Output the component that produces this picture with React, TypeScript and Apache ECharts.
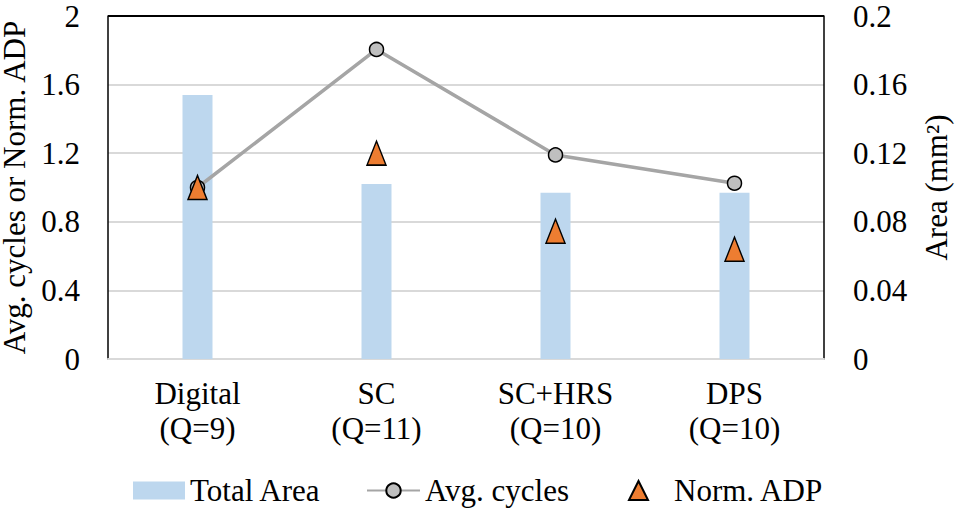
import React, { useEffect, useRef } from "react";
import * as echarts from "echarts";

const categories = ["Digital\n(Q=9)", "SC\n(Q=11)", "SC+HRS\n(Q=10)", "DPS\n(Q=10)"];
const totalArea = [0.154, 0.102, 0.097, 0.097];
const avgCycles = [1.0, 1.805, 1.19, 1.025];
const normADP = [1.0, 1.2, 0.745, 0.64];
const leftTicks = ["0", "0.4", "0.8", "1.2", "1.6", "2"];
const rightTicks = ["0", "0.04", "0.08", "0.12", "0.16", "0.2"];

const FONT = "Liberation Serif";
const FS = 31;

export default function App() {
  const ref = useRef<HTMLDivElement>(null);
  useEffect(() => {
    document.body.style.margin = "0";
    const chart = echarts.init(ref.current!, null, { renderer: "svg" });
    const txt = { color: "#000", fontFamily: FONT, fontSize: FS };
    chart.setOption({
      animation: false,
      grid: {
        left: 108,
        right: 133,
        top: 16,
        bottom: 155,
        outerBoundsMode: "none",
        containLabel: false,
      },
      legend: [
        {
          data: ["Total Area"],
          left: 133,
          top: 475,
          padding: 0,
          itemWidth: 52,
          itemHeight: 18,
          textStyle: { ...txt },
          icon: "rect",
        },
        {
          data: ["Avg. cycles"],
          left: 366,
          top: 475,
          padding: 0,
          itemWidth: 53,
          itemHeight: 18,
          textStyle: { ...txt },
        },
        {
          data: ["Norm. ADP"],
          left: 628,
          top: 475,
          padding: 0,
          itemWidth: 19,
          itemHeight: 19,
          textStyle: { ...txt, padding: [0, 0, 0, 21] },
        },
      ],
      xAxis: {
        type: "category",
        data: categories,
        axisTick: { show: false },
        axisLine: { lineStyle: { color: "#D9D9D9", width: 2 } },
        axisLabel: { ...txt, margin: 17, lineHeight: 35 },
      },
      yAxis: [
        {
          type: "value",
          min: 0,
          max: 2,
          interval: 0.4,
          name: "Avg. cycles or Norm. ADP",
          nameLocation: "middle",
          nameGap: 73,
          nameTextStyle: { ...txt },
          axisLine: { show: true, lineStyle: { color: "#000", width: 1.5 } },
          axisTick: { show: false },
          axisLabel: {
            ...txt,
            margin: 28,
            formatter: (v: number) => leftTicks[Math.round(v / 0.4)] ?? String(v),
          },
          splitLine: {
            lineStyle: {
              color: ["#D9D9D9", "#D9D9D9", "#D9D9D9", "#D9D9D9", "#D9D9D9", "#000000"],
              width: 1.8,
            },
          },
        },
        {
          type: "value",
          min: 0,
          max: 0.2,
          interval: 0.04,
          position: "right",
          name: "Area (mm²)",
          nameLocation: "middle",
          nameGap: 97,
          nameRotate: 90,
          nameTextStyle: { ...txt },
          axisLine: { show: true, lineStyle: { color: "#000", width: 1.5 } },
          axisTick: { show: false },
          axisLabel: {
            ...txt,
            margin: 29,
            formatter: (v: number) => rightTicks[Math.round(v / 0.04)] ?? String(v),
          },
          splitLine: { show: false },
        },
      ],
      series: [
        {
          name: "Total Area",
          type: "bar",
          yAxisIndex: 1,
          data: totalArea,
          barWidth: 30,
          itemStyle: { color: "#BDD7EE" },
          z: 1,
        },
        {
          name: "Avg. cycles",
          type: "line",
          yAxisIndex: 0,
          data: avgCycles,
          symbol: "circle",
          symbolSize: 14,
          lineStyle: { color: "#A5A5A5", width: 3.5 },
          itemStyle: { color: "#BFBFBF", borderColor: "#000", borderWidth: 1.5 },
          z: 3,
        },
        {
          name: "Norm. ADP",
          type: "scatter",
          yAxisIndex: 0,
          data: normADP,
          symbol: "triangle",
          symbolSize: [19, 24],
          itemStyle: { color: "#ED7D31", borderColor: "#000", borderWidth: 1.5, opacity: 1 },
          z: 4,
        },
      ],
    });
    return () => chart.dispose();
  }, []);
  return <div ref={ref} style={{ width: 957, height: 514 }} />;
}
